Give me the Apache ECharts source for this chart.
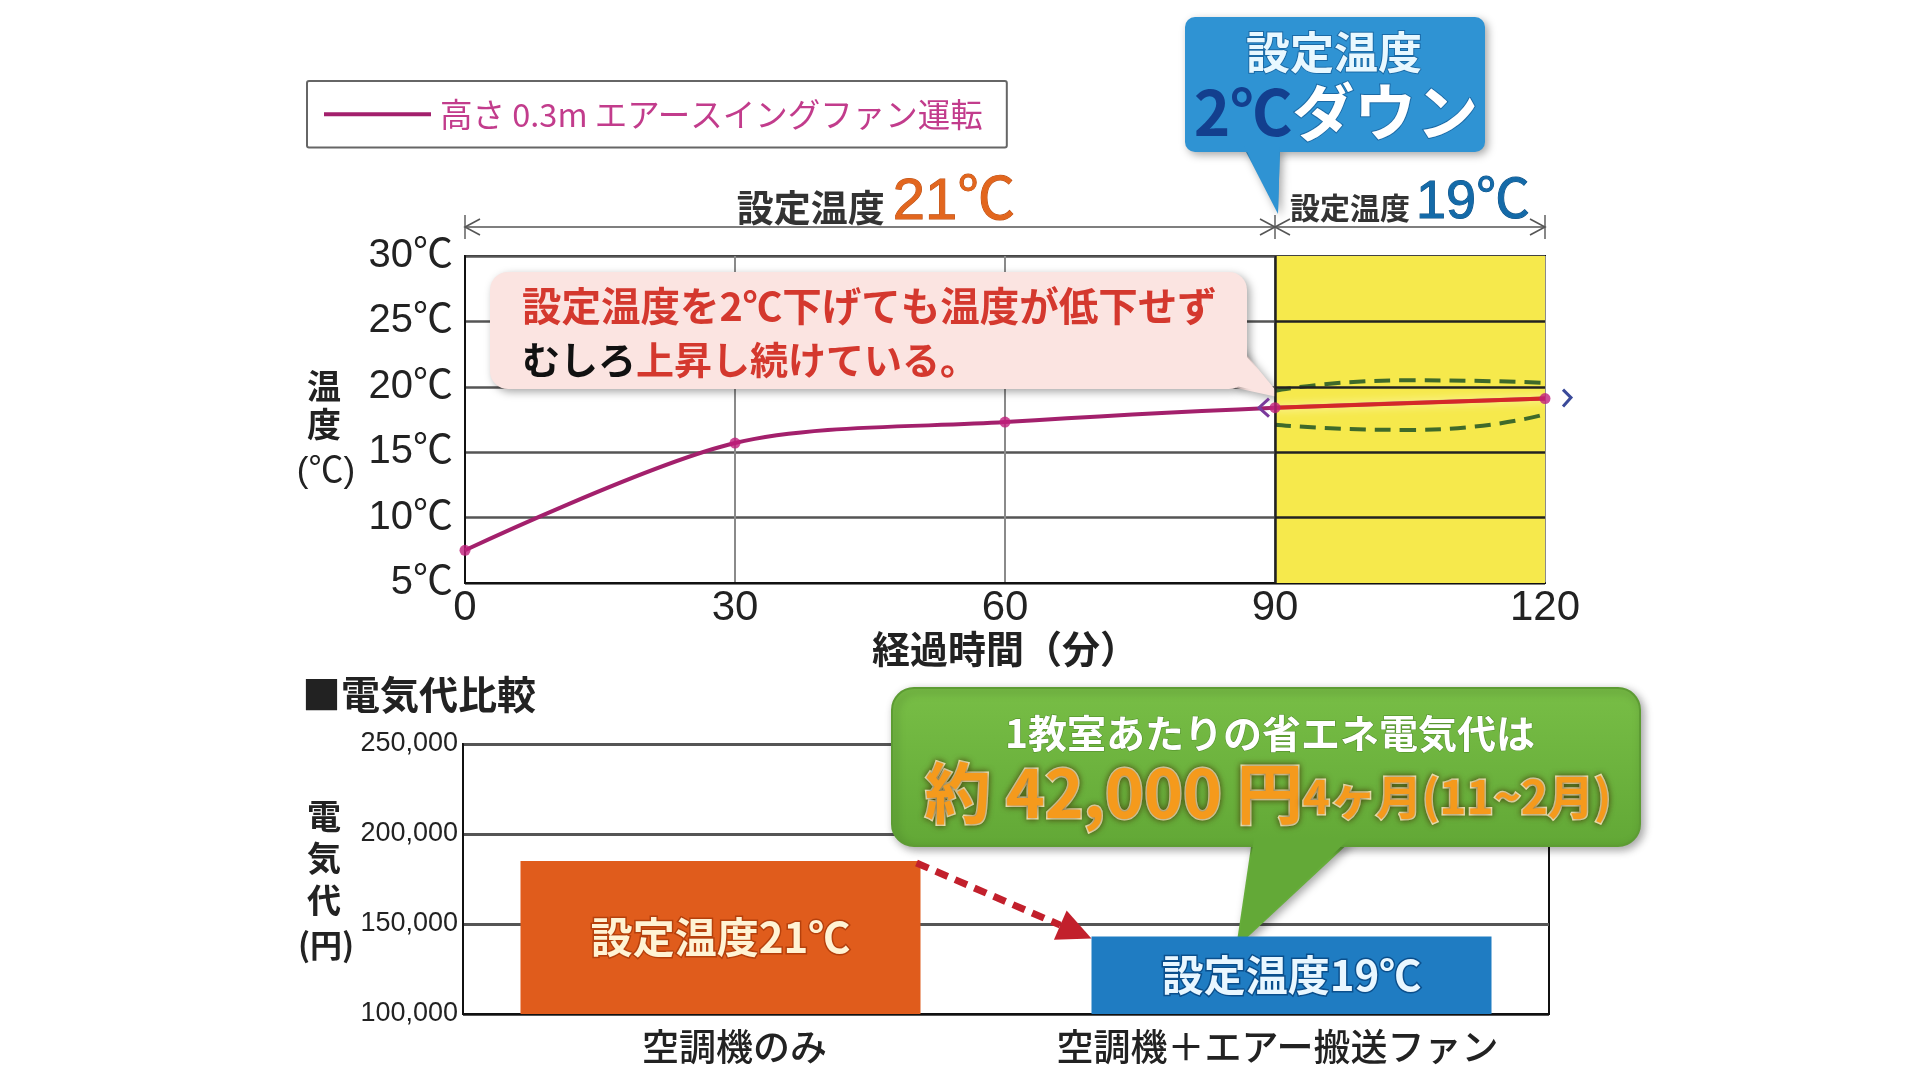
<!DOCTYPE html>
<html><head><meta charset="utf-8">
<script src="https://cdn.jsdelivr.net/npm/echarts/dist/echarts.min.js"></script>
<style>html,body{margin:0;padding:0;background:#fff}#c{width:1920px;height:1080px}</style>
</head><body><div id="c"></div>
<script>
// ---- data ----
const minutes = [0, 30, 60, 90, 120];
const temps = [7.5, 15.7, 17.3, 18.4, 19.1];
const tempTicks = [5, 10, 15, 20, 25, 30];
const lineName = '高さ 0.3m エアースイングファン運転';
const loweredFrom = 90;            // 設定温度19℃ period starts
const loweredTo = 120;
const ellipseMinutes = [90, 105, 120];
const ellipseUpper = [19.7, 20.5, 20.3];
const ellipseLower = [17.1, 16.7, 17.9];
const costCategories = ['空調機のみ', '空調機＋エアー搬送ファン'];
const costValues = [185000, 143000];
const costTicks = [100000, 150000, 200000, 250000];
const costBarLabels = ['設定温度21℃', '設定温度19℃'];

const JP = '"Noto Sans CJK JP", sans-serif';
const NUM = '"Liberation Sans", "Noto Sans CJK JP", sans-serif';

const chart = echarts.init(document.getElementById('c'));
const linePts = minutes.map((m, i) => [m, temps[i]]);
const overlayPts = linePts.filter(p => p[0] >= loweredFrom);
const bandLines = tempTicks.slice(1, -1).map(v => [{ coord: [loweredFrom, v] }, { coord: [loweredTo, v] }]);
bandLines.push([{ coord: [loweredFrom, tempTicks[0]] }, { coord: [loweredFrom, tempTicks[tempTicks.length - 1]] }]);

const barColors = ['#e05c1c', '#1f7cc2'];
const barLabelColors = ['#fff3d4', '#e9f7ff'];
const barLabelBorders = ['#b5400c', '#0b4f8c'];
const barSeries = costValues.map((v, i) => ({
  type: 'bar', xAxisIndex: 1, yAxisIndex: 1, barWidth: 400, barGap: '-93%', z: 3,
  data: costValues.map((w, j) => j === i ? w : '-'),
  itemStyle: { color: barColors[i] },
  label: {
    show: true, position: 'inside', formatter: costBarLabels[i],
    fontSize: 42, fontWeight: 'bold', fontFamily: JP,
    color: barLabelColors[i], textBorderColor: barLabelBorders[i], textBorderWidth: 3
  }
}));

const option = {
  animation: false,
  backgroundColor: '#fff',
  legend: {
    data: [{ name: lineName, icon: 'rect' }],
    left: 307, top: 81,
    itemWidth: 107, itemHeight: 4, itemGap: 10,
    padding: [17, 24, 17, 17],
    borderColor: '#666', borderWidth: 2, borderRadius: 2,
    textStyle: { color: '#c23c8c', fontSize: 32.5, fontFamily: JP, padding: [0, 0, 0, 4] },
    selectedMode: false
  },
  grid: [
    { left: 465, right: 375, top: 256, height: 327, show: true, borderColor: '#111', borderWidth: 2 },
    { left: 463, right: 371, top: 744, height: 270, show: true, borderColor: '#111', borderWidth: 2 }
  ],
  xAxis: [
    {
      type: 'value', gridIndex: 0, min: 0, max: 120, interval: 30,
      axisLine: { lineStyle: { color: '#111', width: 2 } }, axisTick: { show: false },
      axisLabel: { fontSize: 42, color: '#222', fontFamily: NUM, margin: 4 },
      splitLine: { lineStyle: { color: '#8a8a8a', width: 2 } },
      name: '経過時間（分）', nameLocation: 'middle', nameGap: 46,
      nameTextStyle: { fontSize: 38, fontWeight: 'bold', color: '#222', fontFamily: JP }
    },
    {
      type: 'category', gridIndex: 1, data: costCategories,
      axisLine: { lineStyle: { color: '#111', width: 2 } }, axisTick: { show: false },
      axisLabel: { interval: 0, fontSize: 37, color: '#222', fontFamily: JP, fontWeight: 500, margin: 14 }
    }
  ],
  yAxis: [
    {
      type: 'value', gridIndex: 0, min: tempTicks[0], max: tempTicks[tempTicks.length - 1], interval: 5,
      axisLine: { show: true, lineStyle: { color: '#111', width: 2 } }, axisTick: { show: false },
      axisLabel: { fontSize: 40, color: '#222', fontFamily: NUM, margin: 12, formatter: '{value}℃' },
      splitLine: { lineStyle: { color: '#555', width: 2.5 } }
    },
    {
      type: 'value', gridIndex: 1, min: costTicks[0], max: costTicks[costTicks.length - 1], interval: 50000,
      axisLine: { show: true, lineStyle: { color: '#111', width: 2 } }, axisTick: { show: false },
      axisLabel: { fontSize: 27, color: '#222', fontFamily: NUM, margin: 5,
        formatter: v => v.toLocaleString('en-US') },
      splitLine: { lineStyle: { color: '#555', width: 3 } }
    }
  ],
  series: [
    { // yellow band for the 19℃ period
      type: 'line', xAxisIndex: 0, yAxisIndex: 0, data: [], z: 1, silent: true,
      markArea: { silent: true, itemStyle: { color: '#f6e94c' },
        data: [[{ xAxis: loweredFrom }, { xAxis: loweredTo }]] }
    },
    { // grid lines drawn over the yellow band
      type: 'line', xAxisIndex: 0, yAxisIndex: 0, data: [], z: 2, silent: true,
      markLine: { silent: true, symbol: 'none', label: { show: false },
        lineStyle: { color: '#222', width: 2.5, type: 'solid' }, data: bandLines }
    },
    {
      name: lineName, type: 'line', xAxisIndex: 0, yAxisIndex: 0, data: linePts,
      smooth: 0.3, showSymbol: false, z: 3,
      lineStyle: { color: '#a3206c', width: 4 }, itemStyle: { color: '#a3206c' }
    },
    {
      type: 'line', xAxisIndex: 0, yAxisIndex: 0, data: overlayPts, showSymbol: false, z: 4, silent: true,
      lineStyle: { color: '#d42828', width: 4, shadowColor: 'rgba(255,250,200,1)', shadowBlur: 10 }
    },
    {
      type: 'line', xAxisIndex: 0, yAxisIndex: 0, smooth: 0.6, showSymbol: false, z: 4, silent: true,
      data: ellipseMinutes.map((m, i) => [m, ellipseUpper[i]]),
      lineStyle: { color: '#3f6a2a', width: 4, type: [16, 9] }
    },
    {
      type: 'line', xAxisIndex: 0, yAxisIndex: 0, smooth: 0.6, showSymbol: false, z: 4, silent: true,
      data: ellipseMinutes.map((m, i) => [m, ellipseLower[i]]),
      lineStyle: { color: '#3f6a2a', width: 4, type: [16, 9] }
    },
    {
      type: 'scatter', xAxisIndex: 0, yAxisIndex: 0, data: linePts, z: 6, silent: true,
      symbol: 'circle', symbolSize: 11, itemStyle: { color: '#c01f7c' }
    }
  ].concat(barSeries)
};
chart.setOption(option);

const px0 = pt => chart.convertToPixel({ gridIndex: 0 }, pt);
const px1 = pt => chart.convertToPixel({ gridIndex: 1 }, pt);

const xStart = px0([minutes[0], 5])[0];
const xMid = px0([loweredFrom, 5])[0];
const xEnd = px0([loweredTo, 5])[0];
const arrowY = 227;
const gray = '#555';
function chevron(x, dir) {
  return { type: 'polyline', shape: { points: [[x + dir * 15, arrowY - 8], [x, arrowY], [x + dir * 15, arrowY + 8]] },
    style: { stroke: gray, lineWidth: 1.6, fill: null } };
}
const p90 = px0([loweredFrom, temps[3]]);
const p120 = px0([loweredTo, temps[4]]);

// bar pixel geometry from the rendered bars
const barLayout = i => chart.getModel().getSeriesByType('bar')[i].getData().getItemLayout(i);
let b1 = barLayout(0), b2 = barLayout(1);
const aStart = [b1.x + b1.width - 4, b1.y + b1.height + 2];
const aEnd = [b2.x, b2.y + b2.height + 2];
const ang = Math.atan2(aEnd[1] - aStart[1], aEnd[0] - aStart[0]);
const headLen = 34, headW = 16;
const hb = [aEnd[0] - headLen * Math.cos(ang), aEnd[1] - headLen * Math.sin(ang)];
const nx = -Math.sin(ang), ny = Math.cos(ang);

const shadow = { shadowBlur: 8, shadowColor: 'rgba(0,0,0,0.35)', shadowOffsetX: 3, shadowOffsetY: 3 };
const T = (text, x, y, extra) => ({ type: 'text', x, y, style: Object.assign({ text, align: 'center', verticalAlign: 'middle',
  fontSize: 34, fontWeight: 'bold', fontFamily: JP, fill: '#222' }, extra || {}) });

chart.setOption({
  graphic: [
    // range arrows above the top chart
    { type: 'line', shape: { x1: xStart, y1: arrowY, x2: xEnd, y2: arrowY }, style: { stroke: gray, lineWidth: 1.6 } },
    { type: 'line', shape: { x1: xStart, y1: arrowY - 12, x2: xStart, y2: arrowY + 12 }, style: { stroke: gray, lineWidth: 1.4 } },
    { type: 'line', shape: { x1: xMid, y1: arrowY - 12, x2: xMid, y2: arrowY + 12 }, style: { stroke: gray, lineWidth: 1.4 } },
    { type: 'line', shape: { x1: xEnd, y1: arrowY - 12, x2: xEnd, y2: arrowY + 12 }, style: { stroke: gray, lineWidth: 1.4 } },
    chevron(xStart, 1), chevron(xMid, -1), chevron(xMid, 1), chevron(xEnd, -1),
    { type: 'text', x: (xStart + xMid) / 2 + 6, y: 203, style: {
      text: '{a|設定温度}{b|21℃}', align: 'center', verticalAlign: 'middle',
      rich: { a: { fontSize: 37, fontWeight: 'bold', fontFamily: JP, fill: '#333', padding: [10, 8, 0, 0] },
              b: { fontSize: 58, fontFamily: NUM, fill: '#e2661e', stroke: '#b94c12', lineWidth: 1 } } } },
    { type: 'text', x: (xMid + xEnd) / 2, y: 203, style: {
      text: '{a|設定温度}{b|19℃}', align: 'center', verticalAlign: 'middle',
      rich: { a: { fontSize: 30, fontWeight: 'bold', fontFamily: JP, fill: '#333', padding: [10, 6, 0, 0] },
              b: { fontSize: 54, fontFamily: NUM, fill: '#146aa8', stroke: '#0c4f84', lineWidth: 1 } } } },

    // blue callout
    { type: 'group', children: [
      { type: 'polygon', shape: { points: [[1244, 148], [1280, 148], [1278, 214]] }, style: Object.assign({ fill: '#2f93d3' }, shadow) },
      { type: 'rect', shape: { x: 1185, y: 17, width: 300, height: 135, r: 10 }, style: Object.assign({ fill: '#2f93d3' }, shadow) },
      { type: 'polygon', shape: { points: [[1244, 146], [1280, 146], [1278, 212]] }, style: { fill: '#2f93d3' } },
      T('設定温度', 1334, 52, { fontSize: 44, fill: '#e8f8ff', stroke: '#1b6aa6', lineWidth: 2 }),
      { type: 'text', x: 1336, y: 112, style: { text: '{a|2℃}{b|ダウン}', align: 'center', verticalAlign: 'middle',
        rich: { a: { fontSize: 62, fontWeight: 'bold', fontFamily: JP, fill: '#133f8e' },
                b: { fontSize: 62, fontWeight: 'bold', fontFamily: JP, fill: '#ffffff', stroke: '#1b6aa6', lineWidth: 2 } } } }
    ] },

    // pink callout
    { type: 'group', children: [
      { type: 'polygon', shape: { points: [[1236, 342], [1236, 388], [1282, 398]] }, style: Object.assign({ fill: '#fbe4e1' }, shadow) },
      { type: 'rect', shape: { x: 490, y: 272, width: 757, height: 117, r: 18 }, style: Object.assign({ fill: '#fbe4e1' }, shadow) },
      { type: 'polygon', shape: { points: [[1236, 344], [1236, 386], [1280, 396]] }, style: { fill: '#fbe4e1' } },
      T('設定温度を2℃下げても温度が低下せず', 522, 306, { align: 'left', fontSize: 39.5, fill: '#d4382e' }),
      { type: 'text', x: 522, y: 360, style: { text: '{k|むしろ}{r|上昇し続けている。}', align: 'left', verticalAlign: 'middle',
        rich: { k: { fontSize: 38, fontWeight: 'bold', fontFamily: JP, fill: '#111' },
                r: { fontSize: 38, fontWeight: 'bold', fontFamily: JP, fill: '#d4382e' } } } }
    ] },

    // ellipse end arrows
    { type: 'polyline', shape: { points: [[p90[0] - 6, p90[1] - 9], [p90[0] - 16, p90[1]], [p90[0] - 6, p90[1] + 9]] },
      style: { stroke: '#7a3a9c', lineWidth: 3, fill: null }, z: 10 },
    { type: 'polyline', shape: { points: [[p120[0] + 18, p120[1] - 9], [p120[0] + 26, p120[1] - 1], [p120[0] + 18, p120[1] + 8]] },
      style: { stroke: '#3a4a9a', lineWidth: 3, fill: null }, z: 10 },

    // axis names
    T('温', 324, 386), T('度', 324, 424),
    T('(℃)', 326, 472, { fontSize: 35, fontWeight: 'normal', fontFamily: NUM }),
    T('■電気代比較', 302, 694, { align: 'left', fontSize: 39 }),
    T('電', 324, 816), T('気', 324, 858), T('代', 324, 900),
    T('(円)', 326, 945, { fontSize: 32 }),

    // dashed arrow between bars
    { type: 'line', shape: { x1: aStart[0], y1: aStart[1], x2: hb[0], y2: hb[1] },
      style: { stroke: '#c2202c', lineWidth: 7, lineDash: [13, 8] }, z: 10 },
    { type: 'polygon', shape: { points: [aEnd, [hb[0] + nx * headW, hb[1] + ny * headW], [hb[0] - nx * headW, hb[1] - ny * headW]] },
      style: { fill: '#c2202c' }, z: 10 },

    // green callout
    { type: 'group', z: 20, children: [
      { type: 'polygon', shape: { points: [[1252, 840], [1352, 840], [1236, 948]] }, style: Object.assign({ fill: '#66ad3a' }, shadow) },
      { type: 'rect', shape: { x: 892, y: 688, width: 748, height: 158, r: 22 },
        style: Object.assign({ fill: new echarts.graphic.LinearGradient(0, 0, 0, 1, [{ offset: 0, color: '#78be46' }, { offset: 1, color: '#62a836' }]),
          stroke: '#5d9c33', lineWidth: 2 }, shadow) },
      { type: 'polygon', shape: { points: [[1254, 838], [1350, 838], [1238, 945]] }, style: { fill: '#63a937' } },
      T('1教室あたりの省エネ電気代は', 1270, 733, { fontSize: 39, fill: '#ffffff', stroke: '#4f8a2a', lineWidth: 1 }),
      { type: 'text', x: 1268, y: 793, style: { text: '{a|約 42,000 円}{b|4ヶ月(11~2月)}', align: 'center', verticalAlign: 'middle',
        rich: { a: { fontSize: 66, fontWeight: 'bold', fontFamily: JP, fill: '#f59a1c', stroke: '#fff3c4', lineWidth: 3,
                     textShadowColor: 'rgba(60,40,0,0.7)', textShadowBlur: 6 },
                b: { fontSize: 46, fontWeight: 'bold', fontFamily: JP, fill: '#f59a1c', stroke: '#fff3c4', lineWidth: 3,
                     textShadowColor: 'rgba(60,40,0,0.7)', textShadowBlur: 6, padding: [8, 0, 0, 0] } } } }
    ] }
  ]
});
</script></body></html>
